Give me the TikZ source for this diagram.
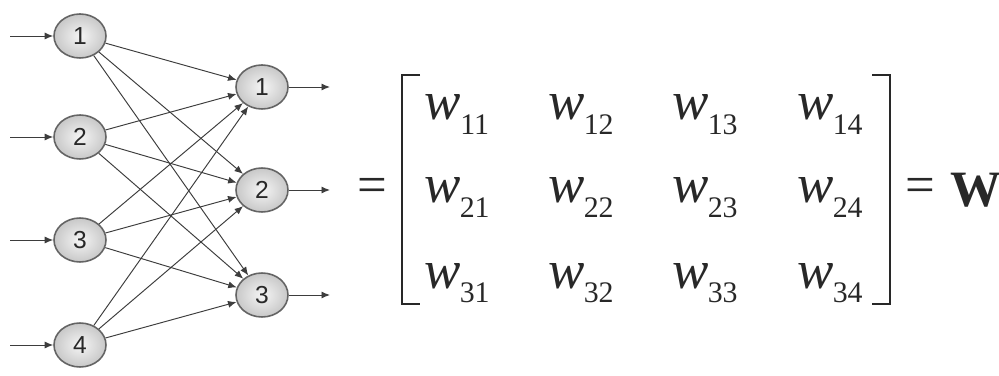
\documentclass[tikz,border=0pt]{standalone}
\usepackage{fontspec}
\setmainfont{Liberation Serif}
\setsansfont{Liberation Sans}
\usepackage{tikz}
\usetikzlibrary{arrows.meta,shapes.geometric}
\definecolor{ink}{RGB}{40,40,40}
\definecolor{rim}{RGB}{100,100,100}
\definecolor{disc}{RGB}{222,222,222}
\newcommand\wsub[1]{\kern-0.5pt\raisebox{-8.5pt}{\upshape\fontsize{17}{17}\selectfont #1}}
\tikzset{
  unit/.style={ellipse,draw=rim,line width=0.9pt,inner color=white!70!disc,
    outer color=disc!90!black,minimum width=1.04cm,minimum height=0.88cm,
    inner sep=0pt,font=\sffamily\fontsize{14}{14}\selectfont,text=ink},
  arr/.style={-{Latex[length=1.7mm,width=1.4mm]},ink!90,line width=0.55pt},
  entry/.style={anchor=base,inner sep=0pt,text=ink,
    font=\fontsize{31}{31}\selectfont},
  sym/.style={inner sep=0pt,text=ink,font=\fontsize{30}{30}\selectfont},
  brk/.style={draw=ink,line width=1.1pt},
}

\begin{document}
\begin{tikzpicture}[x=0.02cm,y=0.02cm]
  \useasboundingbox (0,0) rectangle (999,375);
  % input layer
  \foreach \i/\y in {1/339,2/238,3/135,4/30}{
    \node[unit] (in\i) at (80,\y) {\i};
    \coordinate (src\i) at (10,\y);
    \draw[arr] (src\i) -- (in\i);
  }
  % output layer
  \foreach \j/\y in {1/288,2/185,3/80}{
    \node[unit] (out\j) at (262,\y) {\j};
    \coordinate (dst\j) at (330,\y);
    \draw[arr] (out\j) -- (dst\j);
  }
  % weights
  \foreach \i in {1,...,4}
    \foreach \j in {1,2,3}
      \draw[arr] (in\i) -- (out\j);

  % matrix W
  \node[sym] (eqL) at (372,185) {=};
  \foreach \r/\y in {1/255,2/172,3/87}
    \foreach \c/\x in {1/457,2/581,3/705,4/830}
      \node[entry] (w\r\c) at (\x,\y) {\itshape w\wsub{\r\c}};
  \draw[brk] (420,300) -- (402,300) -- (402,71) -- (420,71);
  \draw[brk] (872,300) -- (890,300) -- (890,71) -- (872,71);
  \node[sym] (eqR) at (920,185) {=};
  \node[sym,anchor=west,font=\fontsize{29}{29}\selectfont\bfseries] (W) at (950,185) {W};
\end{tikzpicture}
\end{document}
